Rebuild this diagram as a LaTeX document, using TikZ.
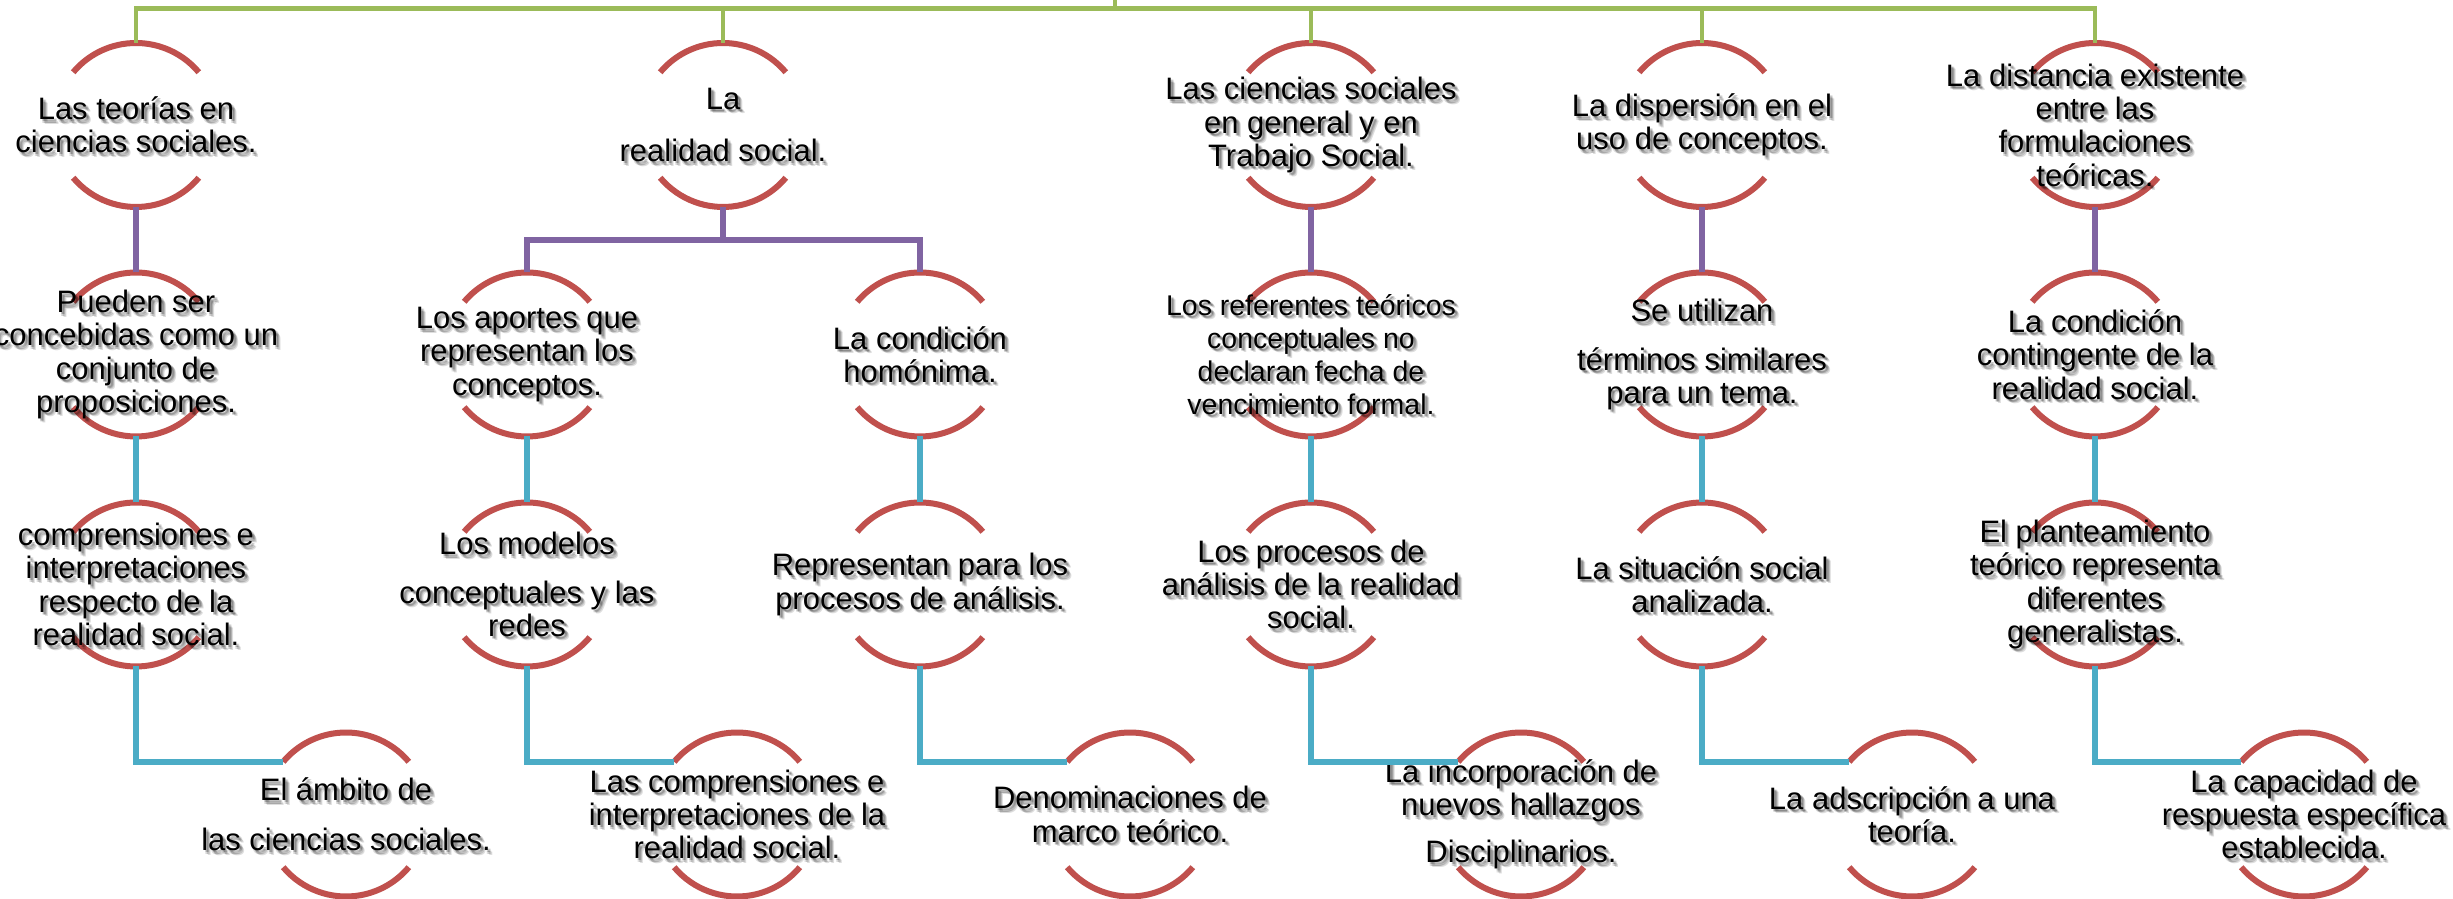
\documentclass[tikz,border=0pt]{standalone}
\usepackage{fontspec}
\setmainfont{Liberation Sans}
\definecolor{ogreen}{HTML}{9BBB59}
\definecolor{opurple}{HTML}{8064A2}
\definecolor{ocyan}{HTML}{4BACC6}
\definecolor{ored}{HTML}{C0504D}
\tikzset{
  ring/.style={circle, minimum size=164pt, inner sep=0pt, outer sep=0pt, draw=none},
  arcline/.style={draw=ored, line width=6pt},
  txt/.style={align=center, inner sep=0pt, font=\fontsize{31pt}{33.3pt}\selectfont},
  smalltxt/.style={align=center, inner sep=0pt, font=\fontsize{28.5pt}{33pt}\selectfont},
  shtxt/.style={text=black, text opacity=0.13},
  gline/.style={draw=ogreen, line width=4.5pt},
  pline/.style={draw=opurple, line width=6pt},
  cline/.style={draw=ocyan, line width=6pt},
}
\newcommand\concept[5][txt]{%
  \node[ring] (#2) at (#3,#4) {};
  \draw[arcline] (#2.40) arc[start angle=40, end angle=140, radius=82pt];
  \draw[arcline] (#2.220) arc[start angle=220, end angle=320, radius=82pt];
  \foreach \dx/\dy in {2/-2, 3.5/-3.5, 3/-2, 2/-3.5, 4.5/-4.5}
    \node[#1, shtxt] at ([shift={(\dx pt,\dy pt)}]#2) {#5};
  \node[#1] (#2t) at (#2) {#5};
}
\begin{document}
\begin{tikzpicture}[x=1pt, y=1pt]
\useasboundingbox (0,0) rectangle (2453,899);
\fill[white] (0,0) rectangle (2453,899);

% level 1
\concept{a1}{136}{774}{Las teorías en\\ciencias sociales.}
\concept{a2}{723}{774}{La\\[19pt]realidad social.}
\concept{a3}{1311}{774}{Las ciencias sociales\\en general y en\\Trabajo Social.}
\concept{a4}{1702}{774}{La dispersión en el\\uso de conceptos.}
\concept{a5}{2095}{774}{La distancia existente\\entre las\\formulaciones\\teóricas.}

% level 2
\concept{b1}{136}{544.5}{Pueden ser\\concebidas como un\\conjunto de\\proposiciones.}
\concept{b2a}{527}{544.5}{Los aportes que\\representan los\\conceptos.}
\concept{b2b}{920}{544.5}{La condición\\homónima.}
\concept[smalltxt]{b3}{1311}{544.5}{Los referentes teóricos\\conceptuales no\\declaran fecha de\\vencimiento formal.}
\concept{b4}{1702}{544.5}{Se utilizan\\[15pt]términos similares\\para un tema.}
\concept{b5}{2095}{544.5}{La condición\\contingente de la\\realidad social.}

% level 3
\concept{c1}{136}{314.5}{comprensiones e\\interpretaciones\\respecto de la\\realidad social.}
\concept{c2a}{527}{314.5}{Los modelos\\[15pt]conceptuales y las\\redes}
\concept{c2b}{920}{314.5}{Representan para los\\procesos de análisis.}
\concept{c3}{1311}{314.5}{Los procesos de\\análisis de la realidad\\social.}
\concept{c4}{1702}{314.5}{La situación social\\analizada.}
\concept{c5}{2095}{314.5}{El planteamiento\\teórico representa\\diferentes\\generalistas.}

% level 4
\concept{d1}{346}{84.5}{El ámbito de\\[17pt]las ciencias sociales.}
\concept{d2a}{737}{84.5}{Las comprensiones e\\interpretaciones de la\\realidad social.}
\concept{d2b}{1130}{84.5}{Denominaciones de\\marco teórico.}
\concept{d3}{1521}{84.5}{La incorporación de\\nuevos hallazgos\\[14pt]Disciplinarios.}
\concept{d4}{1912}{84.5}{La adscripción a una\\teoría.}
\concept{d5}{2304}{84.5}{La capacidad de\\respuesta específica\\establecida.}

% green top bus
\coordinate (root) at (1115,899);
\coordinate (bus) at (0,890.5);
\coordinate (split) at (0,659);
\draw[gline] (root) -- (root |- bus);
\draw[gline] (a1.north) -- (a1.north |- bus) -- (a5.north |- bus) -- (a5.north);
\draw[gline] (a2.north) -- (a2.north |- bus);
\draw[gline] (a3.north) -- (a3.north |- bus);
\draw[gline] (a4.north) -- (a4.north |- bus);

% purple level 1 -> 2
\draw[pline] (a1.south) -- (b1.north);
\draw[pline] (a2.south) -- (a2.south |- split);
\draw[pline] (b2a.north) -- (b2a.north |- split) -- (b2b.north |- split) -- (b2b.north);
\draw[pline] (a3.south) -- (b3.north);
\draw[pline] (a4.south) -- (b4.north);
\draw[pline] (a5.south) -- (b5.north);

% cyan level 2 -> 3
\draw[cline] (b1.south) -- (c1.north);
\draw[cline] (b2a.south) -- (c2a.north);
\draw[cline] (b2b.south) -- (c2b.north);
\draw[cline] (b3.south) -- (c3.north);
\draw[cline] (b4.south) -- (c4.north);
\draw[cline] (b5.south) -- (c5.north);

% cyan level 3 -> 4
\draw[cline] (c1.south) |- (d1.140);
\draw[cline] (c2a.south) |- (d2a.140);
\draw[cline] (c2b.south) |- (d2b.140);
\draw[cline] (c3.south) |- (d3.140);
\draw[cline] (c4.south) |- (d4.140);
\draw[cline] (c5.south) |- (d5.140);
\end{tikzpicture}
\end{document}
